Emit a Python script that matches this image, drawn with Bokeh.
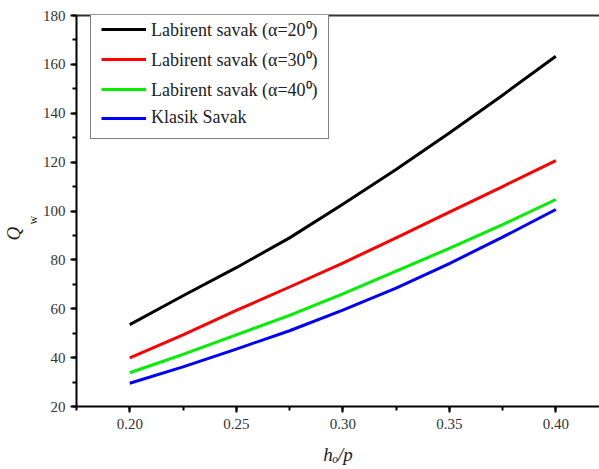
from bokeh.plotting import figure
from bokeh.models import (Range1d, LinearAxis, Legend, LegendItem, Title,
                          SingleIntervalTicker, FixedTicker, NumeralTickFormatter)
from bokeh.embed import file_html
from bokeh.resources import INLINE

# ---- data ----
h_p = [0.20, 0.225, 0.25, 0.275, 0.30, 0.325, 0.35, 0.375, 0.40]
q_alpha20 = [53.5, 65.3, 76.8, 89.0, 102.8, 117.0, 131.9, 147.4, 163.3]
q_alpha30 = [39.9, 49.3, 59.3, 68.9, 78.7, 89.0, 99.5, 110.0, 120.6]
q_alpha40 = [33.8, 41.3, 49.3, 57.3, 66.1, 75.4, 84.7, 94.4, 104.7]
q_klasik = [29.5, 36.2, 43.5, 51.0, 59.4, 68.4, 78.5, 89.3, 100.6]
series_labels = ["Labirent savak (\u03b1=20\u2070)", "Labirent savak (\u03b1=30\u2070)",
                 "Labirent savak (\u03b1=40\u2070)", "Klasik Savak"]
series_colors = ["#000000", "#ff0000", "#00ee00", "#0000ff"]
x_title = "h\u2092/p"
y_title_main = "Q"
y_title_sub = "w"

SERIF = "Times New Roman"

p = figure(width=599, height=469, output_backend="svg", toolbar_location=None,
           x_range=Range1d(0.175, 0.4205), y_range=Range1d(20, 180),
           min_border_left=76, min_border_top=15, min_border_bottom=63,
           min_border_right=0, background_fill_color="white")
p.outline_line_color = None
p.grid.visible = False

renderers = []
for ys, c in zip([q_alpha20, q_alpha30, q_alpha40, q_klasik], series_colors):
    r = p.line(h_p, ys, line_color=c, line_width=3, line_join="round")
    renderers.append(r)

# axes styling
for ax in (p.xaxis[0], p.yaxis[0]):
    ax.axis_line_color = "black"
    ax.axis_line_width = 2
    ax.major_tick_line_color = "black"
    ax.major_tick_line_width = 2
    ax.minor_tick_line_color = "black"
    ax.minor_tick_line_width = 2
    ax.major_tick_in = 0
    ax.major_tick_out = 6
    ax.minor_tick_in = 0
    ax.minor_tick_out = 4
    ax.major_label_text_font = SERIF
    ax.major_label_text_font_size = "15px"
    ax.major_label_text_color = "#333333"

p.xaxis[0].ticker = SingleIntervalTicker(interval=0.05, num_minor_ticks=2)
p.yaxis[0].ticker = SingleIntervalTicker(interval=20, num_minor_ticks=2)
p.xaxis[0].formatter = NumeralTickFormatter(format="0.00")
p.xaxis[0].major_label_standoff = 6
p.yaxis[0].major_label_standoff = 5

p.xaxis[0].axis_label = x_title
p.xaxis[0].axis_label_text_font = SERIF
p.xaxis[0].axis_label_text_font_style = "italic"
p.xaxis[0].axis_label_text_font_size = "19px"
p.xaxis[0].axis_label_text_color = "#222222"
p.xaxis[0].axis_label_standoff = 12

# top frame line
top = LinearAxis(ticker=FixedTicker(ticks=[]), axis_line_color="#333333",
                 axis_line_width=2, major_tick_line_color=None,
                 minor_tick_line_color=None, major_label_text_font_size="0px")
p.add_layout(top, "above")

# y-axis title Q_w as two titles in the left panel (subscript nearer the axis)
p.add_layout(Title(text=y_title_sub, align="left", offset=182, standoff=0,
                   text_font=SERIF, text_font_style="normal", text_font_size="12px",
                   text_color="#222222"), "left")
p.add_layout(Title(text=y_title_main, align="left", offset=166, standoff=0,
                   text_font=SERIF, text_font_style="italic", text_font_size="19px",
                   text_color="#222222"), "left")

legend = Legend(items=[LegendItem(label=lab, renderers=[r])
                       for lab, r in zip(series_labels, renderers)],
                location=(14, 267))
legend.border_line_color = "black"
legend.border_line_width = 1
legend.background_fill_color = "white"
legend.background_fill_alpha = 1
legend.label_text_font = SERIF
legend.label_text_font_size = "18px"
legend.label_text_color = "#222222"
legend.glyph_width = 45
legend.glyph_height = 20
legend.label_height = 20
legend.label_standoff = 5
legend.spacing = 6
legend.padding = 10
legend.margin = 0
p.add_layout(legend)

open("out.html", "w").write(file_html(p, INLINE))
